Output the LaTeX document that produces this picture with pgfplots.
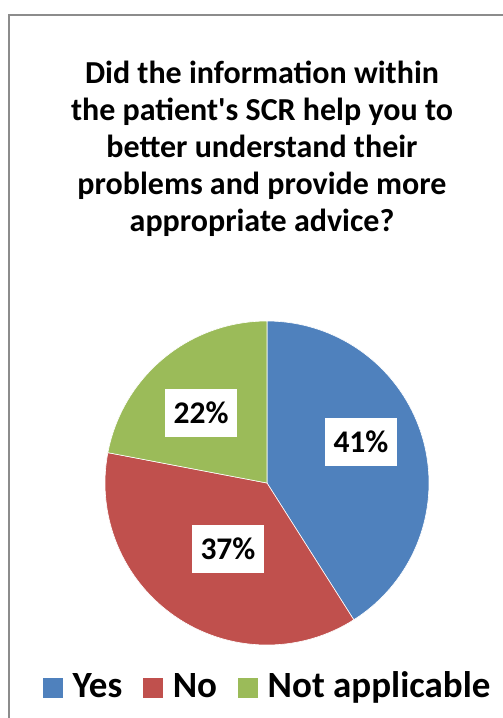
\documentclass[border=0pt]{standalone}
\usepackage{fontspec}
\setmainfont{Carlito}
\usepackage{pgfplots}
\pgfplotsset{compat=1.18}
\definecolor{cyes}{HTML}{4F81BD}
\definecolor{cno}{HTML}{C0504D}
\definecolor{cna}{HTML}{9BBB59}
\definecolor{frame}{RGB}{140,140,140}
% shares (percent)
\def\vyes{41}
\def\vno{37}
\def\vna{22}
\begin{document}
\begin{tikzpicture}
\useasboundingbox (0,0) rectangle (503pt,-718pt);
\fill[white] (0,0) rectangle (503pt,-718pt);
\draw[frame, line width=1.5pt] (9pt,-718pt) -- (9pt,-15pt) -- (503pt,-15pt);
\foreach \t [count=\i] in {Did the information within,the patient{\textquotesingle}s SCR help you to,better understand their,problems and provide more,appropriate advice?}{
  \node[anchor=base, inner sep=0pt, font=\fontsize{32}{37}\selectfont\bfseries] at (262pt,{-83pt-(\i-1)*37pt}) {\t};
}
\begin{axis}[
  at={(267pt,-483pt)}, anchor=origin,
  x=162pt, y=162pt,
  xmin=-1, xmax=1, ymin=-1, ymax=1,
  hide axis, clip=false,
  legend style={draw=none, fill=none, inner sep=0pt, outer sep=0pt,
    at={(-0.1944,-0.125)}, anchor=west,
    legend columns=-1,
    font=\fontsize{37}{37}\selectfont\bfseries,
    nodes={inner sep=0pt, anchor=base west},
    /tikz/every odd column/.append style={column sep=9pt},
    /tikz/every even column/.append style={column sep=20pt}},
  legend image code/.code={\fill[#1] (0pt,-1pt) rectangle (21pt,20pt);},
]
\addplot[fill=cyes, draw=white, line width=0.6pt, domain=0:\vyes, samples=80]
  ({sin(3.6*x)},{cos(3.6*x)}) -- (axis cs:0,0) -- cycle;
\addlegendentry{Yes}
\addplot[fill=cno, draw=white, line width=0.6pt, domain=\vyes:\vyes+\vno, samples=80]
  ({sin(3.6*x)},{cos(3.6*x)}) -- (axis cs:0,0) -- cycle;
\addlegendentry{No}
\addplot[fill=cna, draw=white, line width=0.6pt, domain=\vyes+\vno:100, samples=60]
  ({sin(3.6*x)},{cos(3.6*x)}) -- (axis cs:0,0) -- cycle;
\addlegendentry{Not applicable}
\tikzset{lbl/.style={fill=white, inner sep=0pt, minimum width=72pt, minimum height=48pt, font=\fontsize{31.5}{31.5}\selectfont\bfseries}}
\node[lbl] at (axis cs:0.580,0.253) {41\%};
\node[lbl] at (axis cs:-0.241,-0.407) {37\%};
\node[lbl] at (axis cs:-0.407,0.432) {22\%};
\end{axis}
\end{tikzpicture}
\end{document}
